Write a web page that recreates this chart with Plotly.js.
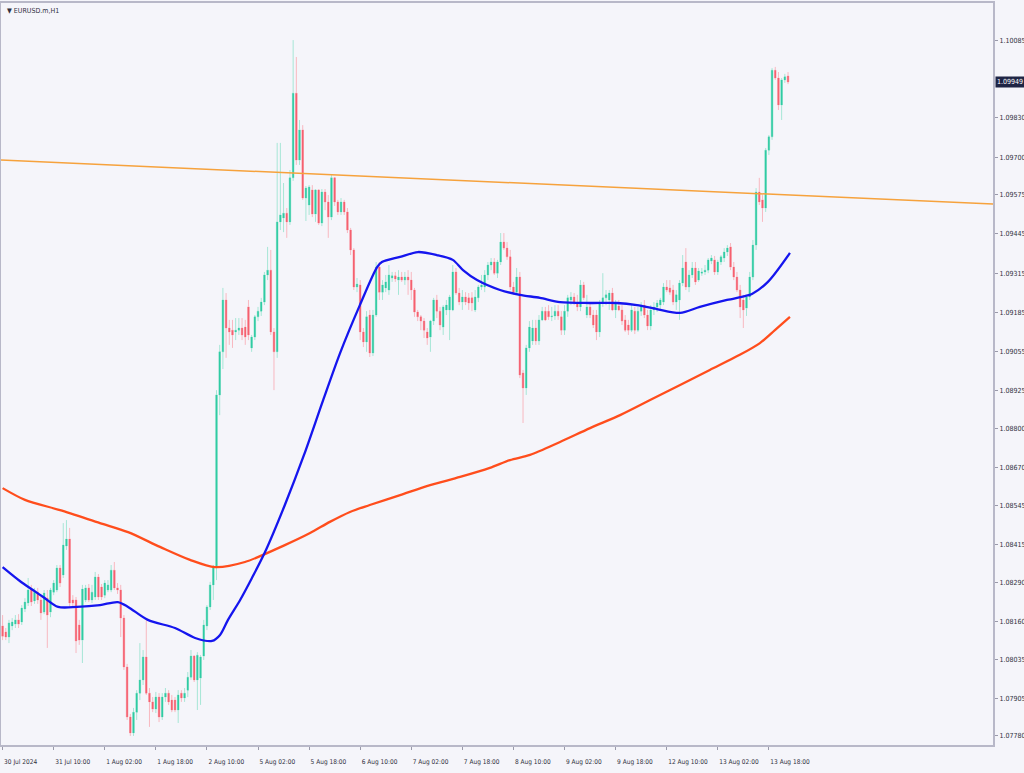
<!DOCTYPE html>
<html>
<head>
<meta charset="utf-8">
<script src="https://cdn.plot.ly/plotly-3.0.1.min.js"></script>
<style>
html,body{margin:0;padding:0;background:#f5f5fa;}
#chart{width:1024px;height:773px;}
</style>
</head>
<body>
<div id="chart"></div>
<script>
// ---- EURUSD.m H1 candles (bar index 0 = 30 Jul 18:00) ----
const openP = [
1.08145,1.08125,1.08108,1.08145,1.08151,1.08165,1.08158,1.08201,1.08221,1.08267,
1.08228,1.08257,1.08231,1.08191,1.08237,1.08191,1.08257,1.08264,1.08337,1.08314,
1.08410,1.08433,1.08231,1.08231,1.08148,1.08098,1.08231,1.08271,1.08231,1.08241,
1.08307,1.08274,1.08247,1.08264,1.08264,1.08330,1.08271,1.08264,1.08171,1.08009,
1.07843,1.07790,1.07859,1.07922,1.07966,1.08042,1.07922,1.07893,1.07869,1.07909,
1.07843,1.07909,1.07922,1.07899,1.07899,1.07866,1.07922,1.07906,1.07932,1.07975,
1.08045,1.07966,1.07972,1.08045,1.08145,1.08208,1.08281,1.08340,1.08911,1.09054,
1.09226,1.09133,1.09126,1.09120,1.09126,1.09133,1.09136,1.09203,1.09067,1.09103,
1.09170,1.09189,1.09219,1.09309,1.09325,1.09120,1.09054,1.09485,1.09498,1.09514,
1.09485,1.09631,1.09912,1.09690,1.09790,1.09564,1.09541,1.09591,1.09511,1.09591,
1.09481,1.09584,1.09551,1.09501,1.09631,1.09551,1.09518,1.09551,1.09518,1.09458,
1.09392,1.09269,1.09276,1.09120,1.09087,1.09176,1.09050,1.09176,1.09335,1.09252,
1.09266,1.09259,1.09299,1.09306,1.09292,1.09302,1.09292,1.09302,1.09292,1.09259,
1.09186,1.09170,1.09156,1.09120,1.09103,1.09156,1.09226,1.09189,1.09136,1.09193,
1.09193,1.09193,1.09319,1.09249,1.09219,1.09236,1.09233,1.09233,1.09193,1.09233,
1.09269,1.09269,1.09309,1.09342,1.09352,1.09315,1.09352,1.09418,1.09398,1.09369,
1.09269,1.09252,1.09302,1.08984,1.08934,1.09067,1.09090,1.09133,1.09090,1.09160,
1.09189,1.09189,1.09170,1.09173,1.09189,1.09170,1.09126,1.09189,1.09226,1.09236,
1.09216,1.09203,1.09276,1.09176,1.09203,1.09176,1.09176,1.09120,1.09216,1.09233,
1.09226,1.09249,1.09193,1.09206,1.09193,1.09160,1.09143,1.09126,1.09189,1.09126,
1.09189,1.09209,1.09176,1.09140,1.09193,1.09203,1.09209,1.09219,1.09269,1.09266,
1.09259,1.09219,1.09226,1.09282,1.09352,1.09269,1.09309,1.09332,1.09292,1.09315,
1.09319,1.09325,1.09355,1.09359,1.09319,1.09352,1.09365,1.09385,1.09402,1.09335,
1.09302,1.09259,1.09226,1.09199,1.09236,1.09302,1.09408,1.09584,1.09558,1.09531,
1.09723,1.09767,1.09988,1.09962,1.09873,1.09956,1.09969
];
const highP = [
1.08181,1.08138,1.08165,1.08171,1.08181,1.08184,1.08214,1.08237,1.08304,1.08281,
1.08271,1.08271,1.08241,1.08264,1.08264,1.08271,1.08297,1.08347,1.08347,1.08486,
1.08496,1.08470,1.08247,1.08241,1.08165,1.08281,1.08281,1.08284,1.08281,1.08324,
1.08317,1.08284,1.08297,1.08297,1.08347,1.08357,1.08287,1.08281,1.08181,1.08019,
1.07853,1.07873,1.07932,1.08088,1.08065,1.08165,1.07939,1.07909,1.07926,1.07922,
1.07922,1.07939,1.07932,1.07916,1.07909,1.07932,1.07932,1.07939,1.07992,1.08065,
1.08048,1.08058,1.08048,1.08165,1.08214,1.08291,1.08347,1.08927,1.09077,1.09266,
1.09249,1.09160,1.09160,1.09166,1.09166,1.09166,1.09160,1.09226,1.09110,1.09176,
1.09203,1.09233,1.09319,1.09402,1.09392,1.09133,1.09747,1.09747,1.09614,1.09531,
1.09657,1.10088,1.10032,1.09823,1.09806,1.09604,1.09607,1.09607,1.09594,1.09594,
1.09594,1.09594,1.09574,1.09641,1.09634,1.09558,1.09564,1.09558,1.09531,1.09465,
1.09398,1.09299,1.09292,1.09133,1.09189,1.09193,1.09193,1.09352,1.09352,1.09292,
1.09309,1.09342,1.09319,1.09319,1.09325,1.09319,1.09319,1.09325,1.09319,1.09266,
1.09193,1.09176,1.09166,1.09133,1.09160,1.09233,1.09243,1.09203,1.09209,1.09226,
1.09243,1.09342,1.09332,1.09266,1.09259,1.09252,1.09249,1.09252,1.09259,1.09276,
1.09309,1.09325,1.09352,1.09365,1.09365,1.09359,1.09448,1.09448,1.09418,1.09392,
1.09286,1.09332,1.09319,1.08994,1.09077,1.09156,1.09160,1.09160,1.09176,1.09203,
1.09203,1.09209,1.09203,1.09209,1.09209,1.09189,1.09209,1.09243,1.09252,1.09249,
1.09243,1.09292,1.09286,1.09243,1.09219,1.09193,1.09193,1.09226,1.09315,1.09259,
1.09259,1.09266,1.09226,1.09226,1.09209,1.09176,1.09160,1.09209,1.09203,1.09203,
1.09219,1.09226,1.09193,1.09209,1.09219,1.09226,1.09233,1.09282,1.09292,1.09292,
1.09276,1.09259,1.09292,1.09375,1.09398,1.09325,1.09352,1.09352,1.09332,1.09332,
1.09342,1.09365,1.09375,1.09372,1.09359,1.09375,1.09398,1.09408,1.09415,1.09352,
1.09319,1.09276,1.09243,1.09243,1.09319,1.09425,1.09597,1.09631,1.09574,1.09730,
1.09773,1.09995,1.09999,1.09982,1.09962,1.09976,1.09982
];
const lowP = [
1.08098,1.08098,1.08088,1.08131,1.08138,1.08138,1.08148,1.08191,1.08211,1.08211,
1.08218,1.08218,1.08165,1.08184,1.08072,1.08174,1.08247,1.08257,1.08274,1.08304,
1.08397,1.08211,1.08211,1.08055,1.08082,1.08022,1.08224,1.08224,1.08221,1.08231,
1.08231,1.08231,1.08237,1.08257,1.08257,1.08264,1.08251,1.08108,1.07999,1.07833,
1.07780,1.07780,1.07833,1.07899,1.07949,1.07916,1.07810,1.07859,1.07856,1.07826,
1.07833,1.07893,1.07883,1.07859,1.07859,1.07823,1.07893,1.07893,1.07909,1.07966,
1.07959,1.07866,1.07883,1.08032,1.08131,1.08198,1.08231,1.08297,1.08844,1.08997,
1.09034,1.09077,1.09067,1.09093,1.09110,1.09093,1.09077,1.09093,1.09054,1.09093,
1.09156,1.09173,1.09209,1.09292,1.09110,1.08927,1.09034,1.09458,1.09451,1.09432,
1.09475,1.09621,1.09674,1.09674,1.09558,1.09488,1.09508,1.09501,1.09485,1.09475,
1.09471,1.09524,1.09432,1.09491,1.09538,1.09508,1.09508,1.09508,1.09448,1.09375,
1.09259,1.09252,1.09093,1.09070,1.09054,1.09037,1.09040,1.09170,1.09226,1.09226,
1.09252,1.09243,1.09286,1.09286,1.09243,1.09286,1.09276,1.09243,1.09226,1.09170,
1.09156,1.09126,1.09100,1.09077,1.09054,1.09143,1.09166,1.09126,1.09110,1.09176,
1.09093,1.09189,1.09243,1.09209,1.09193,1.09209,1.09193,1.09189,1.09186,1.09219,
1.09259,1.09252,1.09292,1.09325,1.09309,1.09299,1.09342,1.09392,1.09359,1.09259,
1.09243,1.09243,1.08967,1.08818,1.08911,1.09054,1.09077,1.09077,1.09077,1.09156,
1.09156,1.09160,1.09156,1.09160,1.09160,1.09110,1.09110,1.09170,1.09209,1.09209,
1.09189,1.09189,1.09226,1.09166,1.09166,1.09133,1.09093,1.09103,1.09203,1.09209,
1.09193,1.09189,1.09166,1.09189,1.09143,1.09120,1.09110,1.09120,1.09113,1.09120,
1.09173,1.09166,1.09126,1.09126,1.09176,1.09186,1.09193,1.09209,1.09252,1.09243,
1.09209,1.09193,1.09160,1.09272,1.09259,1.09252,1.09299,1.09276,1.09286,1.09306,
1.09309,1.09315,1.09345,1.09309,1.09309,1.09342,1.09352,1.09372,1.09325,1.09292,
1.09252,1.09166,1.09133,1.09173,1.09226,1.09292,1.09392,1.09541,1.09485,1.09518,
1.09707,1.09757,1.09956,1.09856,1.09823,1.09946,1.09942
];
const closeP = [
1.08111,1.08108,1.08155,1.08158,1.08165,1.08151,1.08204,1.08224,1.08264,1.08224,
1.08257,1.08231,1.08188,1.08254,1.08181,1.08264,1.08287,1.08337,1.08287,1.08413,
1.08433,1.08221,1.08221,1.08095,1.08098,1.08267,1.08271,1.08231,1.08257,1.08307,
1.08241,1.08241,1.08287,1.08281,1.08330,1.08271,1.08264,1.08171,1.08009,1.07843,
1.07790,1.07859,1.07922,1.07966,1.08042,1.07922,1.07893,1.07869,1.07909,1.07843,
1.07909,1.07922,1.07893,1.07866,1.07866,1.07916,1.07906,1.07922,1.07975,1.08045,
1.07966,1.08048,1.08042,1.08148,1.08208,1.08281,1.08340,1.08911,1.09054,1.09226,
1.09133,1.09120,1.09110,1.09126,1.09133,1.09110,1.09103,1.09110,1.09103,1.09170,
1.09189,1.09219,1.09309,1.09325,1.09120,1.09054,1.09485,1.09508,1.09514,1.09485,
1.09631,1.09912,1.09690,1.09790,1.09564,1.09597,1.09601,1.09511,1.09591,1.09481,
1.09584,1.09551,1.09501,1.09631,1.09551,1.09518,1.09551,1.09518,1.09458,1.09392,
1.09269,1.09279,1.09120,1.09087,1.09170,1.09050,1.09176,1.09335,1.09252,1.09276,
1.09286,1.09309,1.09306,1.09296,1.09302,1.09292,1.09302,1.09292,1.09259,1.09186,
1.09170,1.09156,1.09126,1.09100,1.09156,1.09226,1.09189,1.09143,1.09203,1.09209,
1.09236,1.09319,1.09249,1.09219,1.09236,1.09219,1.09216,1.09216,1.09236,1.09269,
1.09276,1.09309,1.09342,1.09352,1.09315,1.09352,1.09418,1.09398,1.09369,1.09269,
1.09252,1.09302,1.08977,1.08934,1.09067,1.09136,1.09133,1.09090,1.09160,1.09189,
1.09160,1.09170,1.09173,1.09189,1.09173,1.09126,1.09189,1.09233,1.09236,1.09216,
1.09203,1.09276,1.09233,1.09203,1.09176,1.09143,1.09120,1.09216,1.09233,1.09243,
1.09249,1.09193,1.09216,1.09193,1.09156,1.09126,1.09126,1.09193,1.09126,1.09189,
1.09209,1.09176,1.09140,1.09193,1.09203,1.09216,1.09226,1.09269,1.09259,1.09252,
1.09219,1.09243,1.09282,1.09332,1.09269,1.09309,1.09332,1.09286,1.09322,1.09319,
1.09325,1.09359,1.09365,1.09319,1.09352,1.09369,1.09385,1.09398,1.09335,1.09302,
1.09259,1.09203,1.09193,1.09236,1.09302,1.09408,1.09584,1.09551,1.09531,1.09723,
1.09767,1.09988,1.09962,1.09873,1.09956,1.09966,1.09949
];

// ---- Moving averages (bar index, price) ----
const maFastIdx = [0,5.4,9.5,12.7,17.4,23.3,30.5,36.1,39.3,45.5,54,60.3,65.6,68.1,70.6,74.4,78.1,82.2,88.4,94.4,100.4,105.7,111.9,117.3,118.8,124.5,130.1,136,141,144.2,148.6,155.8,162,168.3,174.6,184,192.4,198.7,204.9,212.2,218.4,226.9,232.5,234.7,239.7,246.6];
const maFastVal = [1.08340,1.08294,1.08264,1.08241,1.08208,1.08208,1.08214,1.08224,1.08208,1.08165,1.08138,1.08105,1.08095,1.08115,1.08165,1.08231,1.08304,1.08390,1.08546,1.08712,1.08894,1.09050,1.09209,1.09335,1.09352,1.09369,1.09385,1.09375,1.09359,1.09325,1.09292,1.09259,1.09243,1.09233,1.09219,1.09216,1.09216,1.09209,1.09196,1.09183,1.09203,1.09226,1.09239,1.09246,1.09286,1.09382];
const maSlowIdx = [0,7,18,30.5,39.3,49.3,58.7,66.5,75.9,88.4,96.3,102.5,108.8,115,124.5,133.9,143.3,152.6,158.9,165.2,174.6,184,193.4,202.8,212.2,221.5,230.9,237.2,241.9,246.6];
const maSlowVal = [1.08602,1.08563,1.08529,1.08486,1.08456,1.08407,1.08364,1.08340,1.08357,1.08413,1.08453,1.08490,1.08523,1.08546,1.08579,1.08612,1.08639,1.08669,1.08695,1.08712,1.08755,1.08801,1.08844,1.08894,1.08944,1.08994,1.09044,1.09083,1.09126,1.09170];

// ---- Trend line endpoints (bar index, price) ----
const trendIdx = [-0.5, 310.2];
const trendVal = [1.09690, 1.09544];

// ---- Axis labels ----
const xTickIdx = [0,16,32,48,64,80,96,112,128,144,160,176,192,208,224,240];
const xTickText = ["30 Jul 2024","31 Jul 10:00","1 Aug 02:00","1 Aug 18:00","2 Aug 10:00","5 Aug 02:00","5 Aug 18:00","6 Aug 10:00","7 Aug 02:00","7 Aug 18:00","8 Aug 10:00","9 Aug 02:00","9 Aug 18:00","12 Aug 10:00","13 Aug 02:00","13 Aug 18:00"];
const yTickVals = [1.10085,1.09830,1.09700,1.09575,1.09445,1.09315,1.09185,1.09055,1.08925,1.08800,1.08670,1.08545,1.08415,1.08290,1.08160,1.08035,1.07905,1.07780];
const lastPrice = 1.09949;
const chartTitle = "\u25BC EURUSD.m,H1";

const idx = openP.map((_, i) => i);
const bodyHi = openP.map((o, i) => Math.max(o, closeP[i]));
const bodyLo = openP.map((o, i) => Math.min(o, closeP[i]));

const UP = '#2fcba3', DOWN = '#f5606f';
const UPW = '#a6e6d6', DOWNW = '#f8b8c0';

const traces = [
  { type:'candlestick', x:idx, open:openP, high:highP, low:lowP, close:closeP,
    increasing:{line:{color:UPW,width:1}, fillcolor:UPW},
    decreasing:{line:{color:DOWNW,width:1}, fillcolor:DOWNW},
    hoverinfo:'skip', showlegend:false },
  { type:'candlestick', x:idx, open:openP, high:bodyHi, low:bodyLo, close:closeP,
    increasing:{line:{color:UP,width:0}, fillcolor:UP},
    decreasing:{line:{color:DOWN,width:0}, fillcolor:DOWN},
    hoverinfo:'skip', showlegend:false },
  { type:'scatter', mode:'lines', x:trendIdx, y:trendVal,
    line:{color:'#f6a23c', width:1.5}, hoverinfo:'skip', showlegend:false },
  { type:'scatter', mode:'lines', x:maSlowIdx, y:maSlowVal,
    line:{color:'#ff4d1c', width:2.3, shape:'spline', smoothing:0.8}, hoverinfo:'skip', showlegend:false },
  { type:'scatter', mode:'lines', x:maFastIdx, y:maFastVal,
    line:{color:'#1515ee', width:2.3, shape:'spline', smoothing:0.8}, hoverinfo:'skip', showlegend:false }
];

const FONT = 'DejaVu Sans Condensed, DejaVu Sans, sans-serif';

const layout = {
  width:1024, height:773,
  margin:{l:1, r:31, t:3, b:28},
  paper_bgcolor:'#f5f5fa', plot_bgcolor:'#f5f5fa',
  showlegend:false,
  xaxis:{
    range:[-0.5, 310.2], autorange:false,
    rangeslider:{visible:false},
    tickmode:'array', tickvals:xTickIdx, ticktext:xTickText,
    tickangle:0, automargin:false,
    ticks:'outside', ticklen:3, tickcolor:'#9a9aaa',
    ticklabelposition:'outside right', ticklabelstandoff:9,
    tickfont:{family:FONT, size:6.5, color:'#303040'},
    showgrid:false, zeroline:false,
    showline:true, linecolor:'#b8b8c8', linewidth:2, mirror:true
  },
  yaxis:{
    side:'right', automargin:false,
    range:[1.07750, 1.10211], autorange:false,
    tickmode:'array', tickvals:yTickVals,
    ticktext:yTickVals.map(v => v.toFixed(5)),
    ticks:'outside', ticklen:3, tickcolor:'#9a9aaa',
    tickfont:{family:FONT, size:7, color:'#303040'},
    showgrid:false, zeroline:false,
    showline:true, linecolor:'#b8b8c8', linewidth:2, mirror:true
  },
  annotations:[
    { xref:'paper', yref:'paper', x:0.004, y:1, xanchor:'left', yanchor:'top',
      yshift:-2, text:chartTitle, showarrow:false,
      font:{family:FONT, size:7, color:'#303040'} },
    { xref:'paper', yref:'y', x:1, y:lastPrice, xanchor:'left', yanchor:'middle',
      xshift:2, text:lastPrice.toFixed(5), showarrow:false,
      bgcolor:'#1f2545', borderpad:1,
      font:{family:FONT, size:7, color:'#ffffff'} }
  ]
};

Plotly.newPlot('chart', traces, layout, {displayModeBar:false, staticPlot:true});
</script>
</body>
</html>
